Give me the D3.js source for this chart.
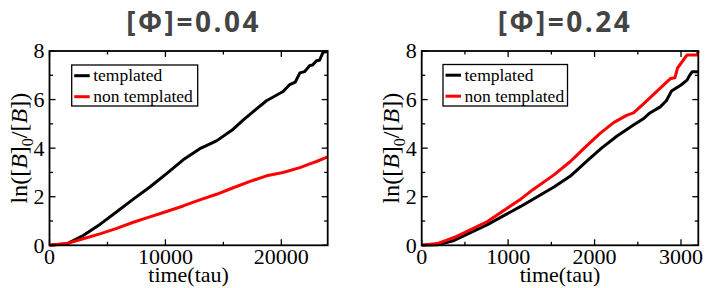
<!DOCTYPE html>
<html>
<head>
<meta charset="utf-8">
<script src="https://cdn.jsdelivr.net/npm/d3@7"></script>
<style>
  body { margin: 0; background: #fff; }
  svg { display: block; }
</style>
</head>
<body>
<script>
// panel titles
var titles = ["[\u03A6]=0.04", "[\u03A6]=0.24"];
var seriesNames = ["templated", "non templated"];
var seriesColors = ["#000000", "#ff0000"];

// left panel ([Φ]=0.04)
var leftTimeA = [0, 1500, 2900, 4350, 5800, 7230, 8660, 10100, 11530, 12970, 14410, 15850, 16700, 17860, 18720, 20150, 20730, 21200, 21600, 22000, 22460, 22700, 23030, 23300, 23600, 24000];
var leftTemplated = [0, 0.06, 0.4, 0.86, 1.38, 1.9, 2.4, 2.95, 3.52, 3.98, 4.3, 4.78, 5.15, 5.62, 5.95, 6.33, 6.62, 6.72, 7.1, 7.15, 7.4, 7.42, 7.6, 7.62, 7.95, 7.98];
var leftTimeB = [0, 1500, 2900, 4350, 5800, 7230, 8660, 10100, 11530, 12970, 14410, 15850, 17300, 18720, 20150, 21600, 22460, 23030, 24000];
var leftNonTemplated = [0, 0.07, 0.27, 0.47, 0.7, 0.95, 1.17, 1.39, 1.62, 1.87, 2.1, 2.37, 2.63, 2.86, 3.0, 3.2, 3.35, 3.45, 3.64];
var leftXTicks = [0, 10000, 20000];
var leftXMinor = [5000, 15000];

// right panel ([Φ]=0.24)
var rightTimeA = [0, 180, 375, 760, 1145, 1530, 1720, 1920, 2080, 2260, 2450, 2560, 2640, 2760, 2830, 2890, 3000, 3070, 3100, 3130, 3200];
var rightTemplated = [0, 0.02, 0.2, 0.85, 1.6, 2.4, 2.85, 3.5, 4.0, 4.5, 4.95, 5.2, 5.45, 5.7, 5.95, 6.35, 6.6, 6.8, 7.0, 7.15, 7.15];
var rightTimeB = [0, 180, 375, 760, 1145, 1290, 1530, 1720, 1880, 2060, 2220, 2370, 2450, 2560, 2680, 2880, 2930, 2960, 3070, 3185, 3200];
var rightNonTemplated = [0, 0.07, 0.32, 0.98, 1.9, 2.3, 2.9, 3.45, 4.0, 4.6, 5.05, 5.35, 5.45, 5.8, 6.2, 6.87, 6.9, 7.3, 7.84, 7.84, 8.0];
var rightXTicks = [0, 1000, 2000, 3000];
var rightXMinor = [500, 1500, 2500];

var yTicks = [0, 2, 4, 6, 8];
var yMinor = [1, 3, 5, 7];

var width = 708, height = 288;
var plotTop = 51, plotBottom = 245.3;

var svg = d3.select('body').append('svg')
    .attr('width', width)
    .attr('height', height);

var panels = [
    { title: titles[0], left: 49.5, right: 327.7, xMax: 24000, xTicks: leftXTicks, xMinor: leftXMinor,
      series: [ { t: leftTimeA, v: leftTemplated }, { t: leftTimeB, v: leftNonTemplated } ],
      legend: { x: 71.7, y: 65, w: 126, h: 41 } },
    { title: titles[1], left: 421.7, right: 698.3, xMax: 3200, xTicks: rightXTicks, xMinor: rightXMinor,
      series: [ { t: rightTimeA, v: rightTemplated }, { t: rightTimeB, v: rightNonTemplated } ],
      legend: { x: 443, y: 64.5, w: 124.5, h: 41.5 } }
];

panels.forEach(function(p) {
    var g = svg.append('g');
    var xScale = d3.scaleLinear().domain([0, p.xMax]).range([p.left, p.right]);
    var yScale = d3.scaleLinear().domain([0, 8]).range([plotBottom, plotTop]);

    // title
    g.append('text')
        .attr('x', (p.left + p.right) / 2 + 5)
        .attr('y', 32)
        .attr('text-anchor', 'middle')
        .style('font-family', '"Open Sans", sans-serif')
        .style('font-weight', 700)
        .style('font-size', '28px')
        .style('letter-spacing', '2.5px')
        .style('fill', '#444')
        .text(p.title);

    // curves
    p.series.forEach(function(s, i) {
        var line = d3.line()
            .x(function(d, j) { return xScale(s.t[j]); })
            .y(function(d) { return yScale(d); });
        g.append('path')
            .attr('fill', 'none')
            .attr('stroke', seriesColors[i])
            .attr('stroke-width', 3)
            .attr('stroke-linejoin', 'round')
            .attr('d', line(s.v));
    });

    // ticks pointing inward on all four sides
    var tickG = g.append('g').attr('stroke', '#000').attr('stroke-width', 1.3);
    function xTick(val, len) {
        tickG.append('line').attr('x1', xScale(val)).attr('x2', xScale(val))
            .attr('y1', plotBottom).attr('y2', plotBottom - len);
        tickG.append('line').attr('x1', xScale(val)).attr('x2', xScale(val))
            .attr('y1', plotTop).attr('y2', plotTop + len);
    }
    function yTick(val, len) {
        tickG.append('line').attr('x1', p.left).attr('x2', p.left + len)
            .attr('y1', yScale(val)).attr('y2', yScale(val));
        tickG.append('line').attr('x1', p.right).attr('x2', p.right - len)
            .attr('y1', yScale(val)).attr('y2', yScale(val));
    }
    p.xTicks.forEach(function(v) { xTick(v, 6); });
    p.xMinor.forEach(function(v) { xTick(v, 3.5); });
    yTicks.forEach(function(v) { yTick(v, 6); });
    yMinor.forEach(function(v) { yTick(v, 3.5); });

    // frame
    g.append('rect')
        .attr('x', p.left).attr('y', plotTop)
        .attr('width', p.right - p.left).attr('height', plotBottom - plotTop)
        .attr('fill', 'none')
        .attr('stroke', '#000')
        .attr('stroke-width', 1.8);

    // tick labels
    var serif = '"Liberation Serif", "Times New Roman", serif';
    p.xTicks.forEach(function(v) {
        g.append('text')
            .attr('x', xScale(v)).attr('y', plotBottom + 19)
            .attr('text-anchor', 'middle')
            .style('font-family', serif).style('font-size', '22px')
            .text(d3.format('d')(v));
    });
    yTicks.forEach(function(v) {
        g.append('text')
            .attr('x', p.left - 5).attr('y', yScale(v))
            .attr('dy', '0.34em')
            .attr('text-anchor', 'end')
            .style('font-family', serif).style('font-size', '22px')
            .text(v);
    });

    // axis labels
    g.append('text')
        .attr('x', (p.left + p.right) / 2).attr('y', 282)
        .attr('text-anchor', 'middle')
        .style('font-family', serif).style('font-size', '22px')
        .text('time(tau)');

    var yl = g.append('text')
        .attr('transform', 'translate(' + (p.left - 23) + ',' + ((plotTop + plotBottom) / 2) + ') rotate(-90)')
        .attr('text-anchor', 'middle')
        .style('font-family', serif).style('font-size', '24px');
    yl.append('tspan').text('ln([');
    yl.append('tspan').style('font-style', 'italic').text('B');
    yl.append('tspan').text(']');
    yl.append('tspan').attr('dy', 6).style('font-size', '16px').text('0');
    yl.append('tspan').attr('dy', -6).text('/[');
    yl.append('tspan').style('font-style', 'italic').text('B');
    yl.append('tspan').text('])');

    // legend
    var L = p.legend;
    var lg = g.append('g');
    lg.append('rect')
        .attr('x', L.x).attr('y', L.y).attr('width', L.w).attr('height', L.h)
        .attr('fill', '#fff').attr('stroke', '#000').attr('stroke-width', 1.3);
    seriesNames.forEach(function(name, i) {
        var cy = L.y + 10.7 + i * 21;
        lg.append('line')
            .attr('x1', L.x + 2.5).attr('x2', L.x + 18)
            .attr('y1', cy).attr('y2', cy)
            .attr('stroke', seriesColors[i]).attr('stroke-width', 3);
        lg.append('text')
            .attr('x', L.x + 21.5).attr('y', cy).attr('dy', '0.32em')
            .style('font-family', serif).style('font-size', '17.5px')
            .text(name);
    });
});
</script>
</body>
</html>
